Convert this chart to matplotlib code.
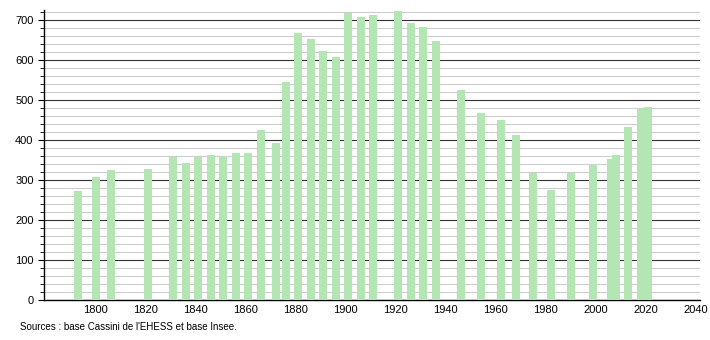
import matplotlib.pyplot as plt
from matplotlib.ticker import MultipleLocator

plt.rcParams['font.family'] = ['Liberation Sans', 'DejaVu Sans']

years = [1793, 1800, 1806, 1821, 1831, 1836, 1841, 1846, 1851, 1856,
         1861, 1866, 1872, 1876, 1881, 1886, 1891, 1896, 1901, 1906,
         1911, 1921, 1926, 1931, 1936, 1946, 1954, 1962, 1968, 1975,
         1982, 1990, 1999, 2006, 2008, 2013, 2018, 2021]
pop = [271, 308, 325, 328, 356, 342, 356, 363, 358, 366,
       368, 425, 391, 544, 667, 652, 622, 607, 717, 707,
       712, 721, 692, 682, 647, 525, 466, 450, 411, 316,
       275, 316, 336, 353, 361, 431, 476, 481]

fig = plt.figure(figsize=(7.1, 3.4), dpi=100)
ax = fig.add_axes([0.062, 0.118, 0.924, 0.853])

ax.bar(years, pop, width=3.2, color='#b3e6b3', zorder=3)

ax.set_xlim(1779.3, 2041.7)
ax.set_ylim(0, 725)
ax.set_xticks(range(1800, 2041, 20))
ax.yaxis.set_major_locator(MultipleLocator(100))
ax.yaxis.set_minor_locator(MultipleLocator(20))

ax.grid(axis='y', which='major', color='#333333', linewidth=0.8, zorder=1)
ax.grid(axis='y', which='minor', color='#cccccc', linewidth=0.8, zorder=0)

for s in ['top', 'right']:
    ax.spines[s].set_visible(False)
ax.spines['left'].set_linewidth(1)
ax.spines['bottom'].set_linewidth(1)
ax.tick_params(axis='x', length=0, labelsize=8, pad=4)
ax.tick_params(axis='y', which='major', length=4, labelsize=8)
ax.tick_params(axis='y', which='minor', length=3)

fig.text(0.028, 0.028, "Sources : base Cassini de l'EHESS et base Insee.", fontsize=7)

fig.savefig('out.png', dpi=100)
